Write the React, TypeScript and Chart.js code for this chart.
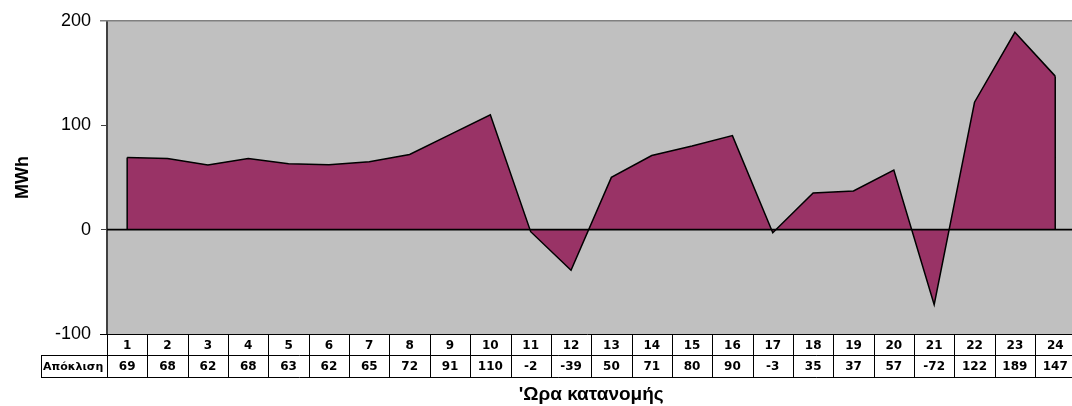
import React, { useEffect, useRef } from 'react';
import { Chart, registerables } from 'chart.js';

Chart.register(...registerables);

const hours = ['1', '2', '3', '4', '5', '6', '7', '8', '9', '10', '11', '12', '13', '14', '15', '16', '17', '18', '19', '20', '21', '22', '23', '24'];
const deviation = [69, 68, 62, 68, 63, 62, 65, 72, 91, 110, -2, -39, 50, 71, 80, 90, -3, 35, 37, 57, -72, 122, 189, 147];
const rowLabel = 'Απόκλιση';
const yTitle = 'MWh';
const xTitle = "'Ωρα κατανομής";
const yMin = -100;
const yMax = 200;
const yStep = 100;

const tablePlugin = {
  id: 'tablePlugin',
  beforeDraw(chart: any) {
    const { ctx, chartArea } = chart;
    const { left, top, right, bottom } = chartArea;
    ctx.save();
    ctx.fillStyle = '#c0c0c0';
    ctx.fillRect(left, top, right - left, bottom - top);
    ctx.restore();
  },
  afterDatasetsDraw(chart: any) {
    const { ctx, chartArea, scales } = chart;
    const { left, top, right, bottom } = chartArea;
    const xs = scales.x;
    const ys = scales.y;
    const y0 = ys.getPixelForValue(0);
    ctx.save();
    // zero line
    ctx.strokeStyle = '#000';
    ctx.lineWidth = 1.6;
    ctx.beginPath();
    ctx.moveTo(left, y0);
    ctx.lineTo(right, y0);
    ctx.stroke();
    // area edges
    const meta = chart.getDatasetMeta(0);
    const pts = meta.data;
    const first = pts[0];
    const last = pts[pts.length - 1];
    ctx.lineWidth = 1.5;
    ctx.beginPath();
    ctx.moveTo(first.x, first.y);
    ctx.lineTo(first.x, y0);
    ctx.moveTo(last.x, last.y);
    ctx.lineTo(last.x, y0);
    ctx.stroke();
    // top border
    ctx.strokeStyle = '#808080';
    ctx.lineWidth = 1.5;
    ctx.beginPath();
    ctx.moveTo(left - 7, top);
    ctx.lineTo(right, top);
    ctx.stroke();

    // table
    const n = hours.length;
    const w = (right - left) / n;
    const r1Top = bottom;
    const r1Bot = bottom + 21;
    const r2Bot = bottom + 43;
    const labelLeft = 41;
    ctx.strokeStyle = '#000';
    ctx.lineWidth = 1;
    ctx.beginPath();
    ctx.moveTo(left - 7, Math.round(r1Top) + 0.5);
    ctx.lineTo(right, Math.round(r1Top) + 0.5);
    ctx.moveTo(labelLeft, Math.round(r1Bot) + 0.5);
    ctx.lineTo(right, Math.round(r1Bot) + 0.5);
    ctx.moveTo(labelLeft, Math.round(r2Bot) + 0.5);
    ctx.lineTo(right, Math.round(r2Bot) + 0.5);
    for (let i = 0; i <= n; i++) {
      const x = Math.round(left + i * w) + 0.5;
      ctx.moveTo(x, r1Top);
      ctx.lineTo(x, r2Bot);
    }
    ctx.moveTo(labelLeft + 0.5, r1Bot);
    ctx.lineTo(labelLeft + 0.5, r2Bot);
    ctx.stroke();

    ctx.fillStyle = '#000';
    ctx.font = 'bold 12px "DejaVu Sans"';
    ctx.textBaseline = 'middle';
    ctx.textAlign = 'center';
    for (let i = 0; i < n; i++) {
      const cx = xs.getPixelForValue(i);
      ctx.fillText(hours[i], cx, (r1Top + r1Bot) / 2 + 1);
      ctx.fillText(String(deviation[i]), cx, (r1Bot + r2Bot) / 2 + 1);
    }
    ctx.textAlign = 'left';
    ctx.font = 'bold 11px "DejaVu Sans"';
    ctx.fillText(rowLabel, labelLeft + 2, (r1Bot + r2Bot) / 2 + 1);

    // titles
    ctx.font = 'bold 19px "Liberation Sans", Arial';
    ctx.textAlign = 'center';
    ctx.fillText(xTitle, (left + right) / 2, 395);
    ctx.save();
    ctx.translate(23, (top + bottom) / 2);
    ctx.rotate(-Math.PI / 2);
    ctx.font = 'bold 18px "Liberation Sans", Arial';
    ctx.fillText(yTitle, 0, 0);
    ctx.restore();
    ctx.restore();
  },
};

export default function App() {
  const ref = useRef<HTMLCanvasElement>(null);
  useEffect(() => {
    if (!ref.current) return;
    const chart = new Chart(ref.current, {
      type: 'line',
      data: {
        labels: hours,
        datasets: [
          {
            data: deviation,
            fill: 'origin',
            backgroundColor: '#993366',
            borderColor: '#000',
            borderWidth: 1.5,
            pointRadius: 0,
            tension: 0,
          },
        ],
      },
      options: {
        responsive: false,
        animation: false,
        devicePixelRatio: 1,
        layout: { padding: { top: 20, bottom: 72, left: 0, right: 4.6 } },
        plugins: { legend: { display: false }, tooltip: { enabled: false } },
        scales: {
          x: { type: 'category', offset: true, display: false },
          y: {
            min: yMin,
            max: yMax,
            ticks: {
              stepSize: yStep,
              color: '#000',
              font: { family: '"Liberation Sans", Arial', size: 18 },
              padding: 10,
            },
            grid: { drawOnChartArea: false, drawTicks: true, tickLength: 6, color: '#404040' },
            border: { display: true, color: '#404040', width: 2 },
            afterFit: (scale: any) => {
              scale.width = 107;
            },
          },
        },
      } as any,
      plugins: [tablePlugin],
    });
    return () => chart.destroy();
  }, []);
  return (
    <div style={{ position: 'fixed', left: 0, top: 0, width: 1072, height: 406, overflow: 'hidden', background: '#fff' }}>
      <canvas ref={ref} width={1080} height={406} style={{ display: 'block' }} />
    </div>
  );
}
